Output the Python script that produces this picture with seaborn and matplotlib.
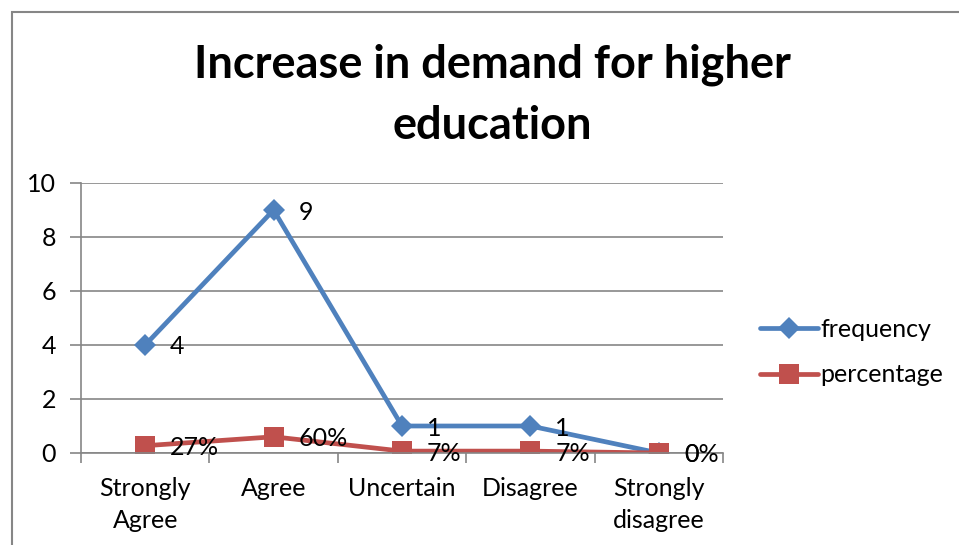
import matplotlib
matplotlib.use("Agg")
import matplotlib.pyplot as plt
from matplotlib.patches import Rectangle
from matplotlib.ticker import FixedLocator
import seaborn as sns
import pandas as pd

categories = ["Strongly\nAgree", "Agree", "Uncertain", "Disagree", "Strongly\ndisagree"]
frequency = [4, 9, 1, 1, 0]
percentage = [0.27, 0.60, 0.07, 0.07, 0.0]
percentage_labels = ["27%", "60%", "7%", "7%", "0%"]

BLUE = "#4F81BD"
RED = "#C0504D"
GRID = "#868686"
FS = 18

sns.set_theme(style="white")
plt.rcParams["font.family"] = ["Lato", "DejaVu Sans"]
plt.rcParams["text.color"] = "black"
plt.rcParams["xtick.color"] = "black"
plt.rcParams["ytick.color"] = "black"

fig = plt.figure(figsize=(9.59, 5.45), dpi=100)
ax = fig.add_axes([81 / 959, 1 - 453 / 545, 642 / 959, 270 / 545])

df = pd.DataFrame({
    "pos": list(range(len(categories))) * 2,
    "value": frequency + percentage,
    "series": ["frequency"] * len(categories) + ["percentage"] * len(categories),
})

sns.lineplot(data=df[df.series == "frequency"], x="pos", y="value", ax=ax,
             color=BLUE, linewidth=3.4, marker="D", markersize=11,
             markeredgewidth=0, label="frequency")
sns.lineplot(data=df[df.series == "percentage"], x="pos", y="value", ax=ax,
             color=RED, linewidth=3.4, marker="s", markersize=14,
             markeredgewidth=0, label="percentage")

# data labels to the right of each point
for i, v in enumerate(frequency):
    ax.annotate(str(v), (i, v), xytext=(25, -2), textcoords="offset pixels",
                ha="left", va="center", fontsize=FS, color="black")
for i, (v, lab) in enumerate(zip(percentage, percentage_labels)):
    ax.annotate(lab, (i, v), xytext=(25, -2), textcoords="offset pixels",
                ha="left", va="center", fontsize=FS, color="black")

ax.set_xlim(-0.5, len(categories) - 0.5)
ax.set_ylim(0, 10)
ax.set_yticks(range(0, 11, 2))
ax.set_xticks(range(len(categories)))
ax.set_xticklabels(categories, fontsize=FS, linespacing=1.48)
ax.xaxis.set_minor_locator(FixedLocator([i + 0.5 for i in range(-1, len(categories))]))
ax.tick_params(axis="y", labelsize=FS, length=8, width=1.2, color=GRID, pad=10, left=True,
               labelcolor="black")
ax.tick_params(axis="x", which="major", length=0, pad=17, labelcolor="black")
ax.tick_params(axis="x", which="minor", length=7, width=1.2, color=GRID, bottom=True)
ax.yaxis.grid(True, color=GRID, linewidth=1.2)
ax.set_axisbelow(True)
ax.set_xlabel("")
ax.set_ylabel("")
for side in ["top", "right"]:
    ax.spines[side].set_visible(False)
for side in ["left", "bottom"]:
    ax.spines[side].set_color(GRID)
    ax.spines[side].set_linewidth(1.2)

handles, labels = ax.get_legend_handles_labels()
ax.legend(handles, labels, loc="center left", bbox_to_anchor=(760 / 959, 1 - 352 / 545),
          bbox_transform=fig.transFigure, frameon=False, fontsize=FS,
          handlelength=2.3, handletextpad=0.1, labelspacing=0.9, borderaxespad=0,
          borderpad=0, labelcolor="black")

fig.text(492 / 959, 1 - 95 / 545, "Increase in demand for higher\neducation",
         ha="center", va="center", fontsize=32.5, fontweight="bold", linespacing=1.55,
         color="black")

# chart border
fig.patches.append(Rectangle((12 / 959, -0.1), 1.2, 1 - 12 / 545 + 0.1,
                             transform=fig.transFigure, fill=False,
                             edgecolor=GRID, linewidth=1.5, zorder=0))

fig.savefig("out.png", dpi=100)
